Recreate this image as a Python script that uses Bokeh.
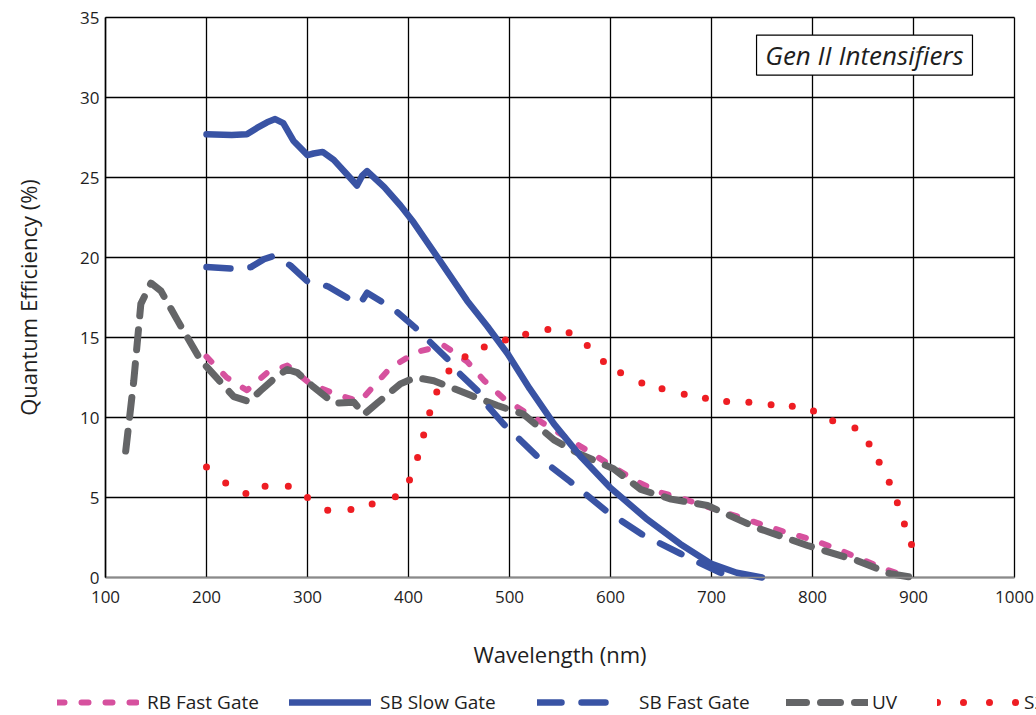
from bokeh.plotting import figure
from bokeh.models import (Range1d, Legend, LegendItem, BoxAnnotation, Label,
                          FixedTicker)
from bokeh.embed import file_html
from bokeh.resources import INLINE

# ---------------- data ----------------
x_ticks = [100, 200, 300, 400, 500, 600, 700, 800, 900, 1000]
y_ticks = [0, 5, 10, 15, 20, 25, 30, 35]

rb_fast_nm = [200, 220, 240, 260, 280, 303, 326, 352, 366, 382, 408, 435, 458, 475,
              494, 514, 537, 560, 583, 603, 626, 650, 673, 702, 748, 775, 798, 824,
              847, 874, 897]
rb_fast_qe = [13.8, 12.5, 11.7, 12.8, 13.25, 12.1, 11.5, 11.0, 12.0, 13.1, 14.1, 14.5,
              13.5, 12.3, 11.2, 10.4, 9.5, 8.6, 7.7, 6.9, 6.0, 5.3, 4.9, 4.3, 3.35,
              2.8, 2.4, 1.8, 1.17, 0.48, 0.0]

sb_slow_nm = [200, 225, 240, 250, 260, 268, 276, 286, 300, 306, 315, 326, 339, 349,
              354, 359, 376, 392, 405, 430, 458, 478, 498, 520, 544, 570, 600, 635,
              669, 700, 725, 750]
sb_slow_qe = [27.7, 27.65, 27.7, 28.1, 28.45, 28.65, 28.4, 27.3, 26.4, 26.5, 26.6,
              26.1, 25.2, 24.5, 25.1, 25.4, 24.4, 23.25, 22.2, 19.9, 17.3, 15.7, 14.0,
              11.8, 9.6, 7.6, 5.6, 3.7, 2.1, 0.85, 0.3, 0.0]

sb_fast_nm = [200, 227, 244, 257, 267, 283, 300, 320, 339, 352, 359, 372, 385, 407,
              438, 448, 468, 478, 494, 527, 560, 595, 631, 669, 687, 709, 720]
sb_fast_qe = [19.4, 19.3, 19.4, 19.9, 20.1, 19.5, 18.5, 18.2, 17.5, 17.1, 17.8, 17.3,
              16.8, 15.6, 13.7, 12.9, 11.7, 10.75, 9.6, 7.6, 6.0, 4.2, 2.7, 1.5, 0.95,
              0.3, 0.1]

uv_nm = [120, 128, 135, 145, 155, 171, 194, 227, 242, 254, 270, 280, 290, 306, 326,
         346, 356, 369, 392, 407, 425, 461, 488, 514, 544, 570, 603, 630, 660, 696,
         745, 795, 844, 877, 900]
uv_qe = [7.9, 12.3, 17.1, 18.4, 17.9, 16.1, 13.6, 11.3, 11.0, 11.7, 12.6, 13.0, 12.8,
         11.9, 10.9, 10.95, 10.2, 10.9, 12.1, 12.5, 12.3, 11.4, 10.75, 10.2, 8.6, 7.7,
         6.8, 5.5, 4.9, 4.5, 3.1, 2.0, 1.06, 0.23, 0.0]

s25_nm = [200, 219, 239, 258, 281, 300, 320, 343, 364, 387, 401, 409, 415, 421, 428,
          440, 456, 475, 496, 516, 538, 559, 577, 593, 610, 631, 651, 673, 694, 715,
          737, 759, 780, 801, 820, 842, 856, 866, 876, 884, 891, 898]
s25_qe = [6.9, 5.9, 5.25, 5.7, 5.7, 5.0, 4.2, 4.25, 4.6, 5.05, 6.1, 7.5, 8.9, 10.3,
          11.6, 12.9, 13.8, 14.4, 14.85, 15.2, 15.5, 15.3, 14.5, 13.5, 12.8, 12.15,
          11.8, 11.45, 11.2, 11.0, 10.95, 10.8, 10.7, 10.4, 9.8, 9.35, 8.35, 7.2,
          5.96, 4.67, 3.35, 2.06]

series_names = ["RB Fast Gate", "SB Slow Gate", "SB Fast Gate", "UV", "S25"]

# ---------------- styling ----------------
FONT = "Open Sans"
BLUE = "#3953A4"
PINK = "#D6519E"
GREY = "#646567"
RED = "#EE1D23"
TXT = "#1e1e1e"

STYLES = {
    "RB Fast Gate": dict(line_color=PINK, line_width=6, line_dash="7 17"),
    "SB Slow Gate": dict(line_color=BLUE, line_width=6.5),
    "SB Fast Gate": dict(line_color=BLUE, line_width=6.5, line_dash="24 20"),
    "UV": dict(line_color=GREY, line_width=7, line_dash="20 14"),
    "S25": dict(line_color=RED, line_width=7, line_dash="0 26"),
}
common = dict(line_cap="round", line_join="round")

# ---------------- layout geometry (pixels) ----------------
W, H = 1036, 715
PLOT_L, PLOT_R, PLOT_T, PLOT_B = 105, 1014, 17, 577     # plotting area in page px
X0, X1 = x_ticks[0], x_ticks[-1]
Y0, Y1 = y_ticks[0], y_ticks[-1]
sx = (PLOT_R - PLOT_L) / (X1 - X0)       # px per nm
sy = (PLOT_B - PLOT_T) / (Y1 - Y0)       # px per % QE

# the frame covers the whole canvas so that the legend strip below is not clipped
p = figure(width=W, height=H,
           x_range=Range1d(X0 - PLOT_L / sx, X1 + (W - PLOT_R) / sx),
           y_range=Range1d(Y0 - (H - PLOT_B) / sy, Y1 + PLOT_T / sy),
           output_backend="svg", toolbar_location=None, min_border=0)
p.outline_line_color = None
p.background_fill_color = "white"
p.border_fill_color = "white"
p.xgrid.visible = False
p.ygrid.visible = False

# grid drawn from the tick arrays, limited to the data rectangle
p.segment(x0=x_ticks, y0=[Y0] * len(x_ticks), x1=x_ticks, y1=[Y1] * len(x_ticks),
          line_color="black", line_width=1.3)
p.segment(x0=[X0] * len(y_ticks), y0=y_ticks, x1=[X1] * len(y_ticks), y1=y_ticks,
          line_color="black", line_width=1.3)

# axes pinned to the data rectangle edges
p.xaxis.fixed_location = Y0
p.xaxis.bounds = (X0, X1)
p.yaxis.fixed_location = X0
p.yaxis.bounds = (Y0, Y1)
p.xaxis.ticker = FixedTicker(ticks=x_ticks)
p.yaxis.ticker = FixedTicker(ticks=y_ticks)
for ax in (p.xaxis[0], p.yaxis[0]):
    ax.major_tick_out = 0
    ax.major_tick_in = 0
    ax.minor_tick_out = 0
    ax.minor_tick_in = 0
    ax.axis_line_width = 1.5
    ax.major_label_text_font = FONT
    ax.major_label_text_font_size = "17px"
    ax.major_label_text_color = TXT
    ax.axis_label_text_font = FONT
    ax.axis_label_text_font_size = "22px"
    ax.axis_label_text_font_style = "normal"
    ax.axis_label_text_color = TXT
p.xaxis.axis_line_color = "#8a8a8a"
p.yaxis.axis_line_color = "black"

p.xaxis.axis_label = "Wavelength (nm)"
p.yaxis.axis_label = "Quantum Efficiency (%)"
p.xaxis.major_label_standoff = 13
p.xaxis.axis_label_standoff = 33
p.yaxis.major_label_standoff = 6
p.yaxis.axis_label_standoff = 34

# ---------------- series ----------------
r_rb = p.line(rb_fast_nm, rb_fast_qe, **STYLES["RB Fast Gate"], **common)
r_uv = p.line(uv_nm, uv_qe, **STYLES["UV"], **common)
r_sbf = p.line(sb_fast_nm, sb_fast_qe, **STYLES["SB Fast Gate"], **common)
r_sbs = p.line(sb_slow_nm, sb_slow_qe, **STYLES["SB Slow Gate"], **common)
p.scatter(s25_nm, s25_qe, size=7, fill_color=RED, line_color=None)
# hidden dotted line, used only for the legend sample of the S25 series
r_s25 = p.line(s25_nm, s25_qe, **STYLES["S25"], **common, visible=False)

# ---------------- title box ----------------
p.add_layout(BoxAnnotation(left=744.6, right=958.4, bottom=31.4, top=33.9,
                           fill_color="white", fill_alpha=1.0,
                           line_color="black", line_width=1.2, line_alpha=1.0))
p.add_layout(Label(x=851.5, y=32.65, text="Gen II Intensifiers",
                   text_align="center", text_baseline="middle",
                   text_font=FONT, text_font_style="italic",
                   text_font_size="26px", text_color=TXT))

# ---------------- legend strip (one legend per entry, screen offsets) --------
renderers = [r_rb, r_sbs, r_sbf, r_uv, r_s25]
leg_x = [57, 289, 537, 786, 937]
leg_standoff = [8, 9, 20, 4, 5]
for name, rend, lx, so in zip(series_names, renderers, leg_x, leg_standoff):
    leg = Legend(items=[LegendItem(label=name, renderers=[rend])],
                 location=(lx, 0), orientation="horizontal",
                 padding=0, margin=0, spacing=0,
                 border_line_color=None, background_fill_alpha=0,
                 inactive_fill_alpha=0,
                 glyph_width=82, glyph_height=22, label_standoff=so,
                 label_text_font=FONT, label_text_font_size="19px",
                 label_text_color=TXT)
    p.add_layout(leg, "center")

open("out.html", "w").write(file_html(p, INLINE))
